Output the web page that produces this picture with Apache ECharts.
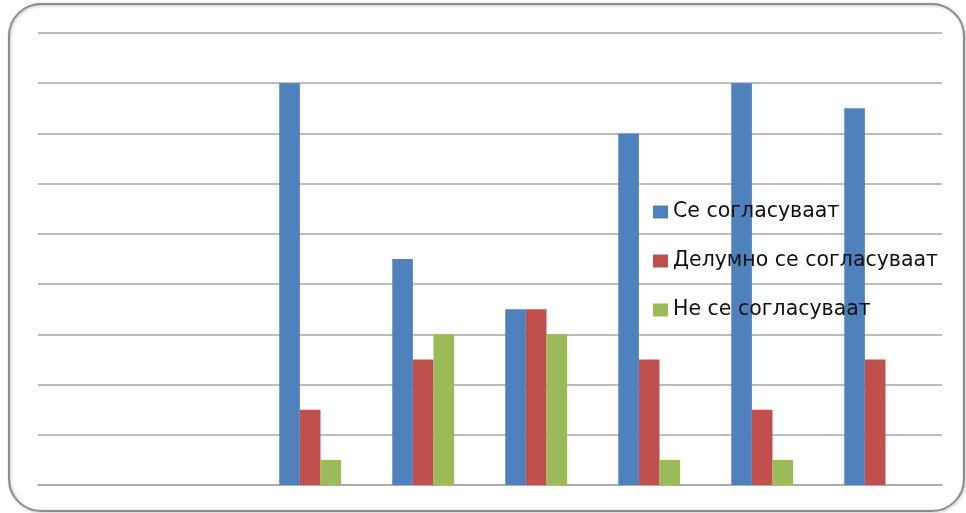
<!DOCTYPE html>
<html>
<head>
<meta charset="utf-8">
<script src="https://cdn.jsdelivr.net/npm/echarts@6/dist/echarts.min.js"></script>
<style>
html, body { margin: 0; padding: 0; background: #fff; }
#main { width: 966px; height: 513px; }
</style>
</head>
<body>
<div id="main"></div>
<script>
// categories have no labels in the picture; first two are empty
var categories = ['1', '2', '3', '4', '5', '6', '7', '8'];
var seNames = ['Се согласуваат', 'Делумно се согласуваат', 'Не се согласуваат'];
var agree = [0, 0, 8, 4.5, 3.5, 7, 8, 7.5];
var partly = [0, 0, 1.5, 2.5, 3.5, 2.5, 1.5, 2.5];
var disagree = [0, 0, 0.5, 3, 3, 0.5, 0.5, 0];
// empty 4th series keeps the Excel-style slot offset
var blank = [0, 0, 0, 0, 0, 0, 0, 0];

var colors = ['#4f81bd', '#c0504d', '#9bbb59'];

var chart = echarts.init(document.getElementById('main'));

function bar(name, data, color) {
    return {
        name: name,
        type: 'bar',
        data: data,
        barGap: 0,
        barCategoryGap: '27%',
        itemStyle: { color: color },
        emphasis: { disabled: true }
    };
}

chart.setOption({
    animation: false,
    graphic: [{
        type: 'rect',
        shape: { x: 9, y: 4, width: 955, height: 507, r: 32 },
        style: { fill: 'none', stroke: '#8c8c8c', lineWidth: 2, shadowBlur: 3, shadowColor: 'rgba(0,0,0,0.25)', shadowOffsetX: 1, shadowOffsetY: 1 },
        z: -1
    }],
    grid: { left: 38, right: 24, top: 33, bottom: 28, containLabel: false },
    xAxis: {
        type: 'category',
        data: categories,
        axisLine: { lineStyle: { color: '#a6a6a6', width: 1.5 } },
        axisTick: { show: false },
        axisLabel: { show: false }
    },
    yAxis: {
        type: 'value',
        min: 0,
        max: 9,
        interval: 1,
        axisLine: { show: false },
        axisTick: { show: false },
        axisLabel: { show: false },
        splitLine: { lineStyle: { color: '#a6a6a6', width: 1.5 } }
    },
    legend: {
        data: seNames,
        orient: 'vertical',
        left: 648,
        top: 196,
        itemWidth: 15,
        itemHeight: 13,
        itemGap: 27,
        icon: 'rect',
        textStyle: { fontFamily: 'DejaVu Sans', fontSize: 20.5, color: '#111', lineHeight: 22 },
        selectedMode: false
    },
    series: [
        bar(seNames[0], agree, colors[0]),
        bar(seNames[1], partly, colors[1]),
        bar(seNames[2], disagree, colors[2]),
        bar('blank', blank, 'transparent')
    ]
});
</script>
</body>
</html>
